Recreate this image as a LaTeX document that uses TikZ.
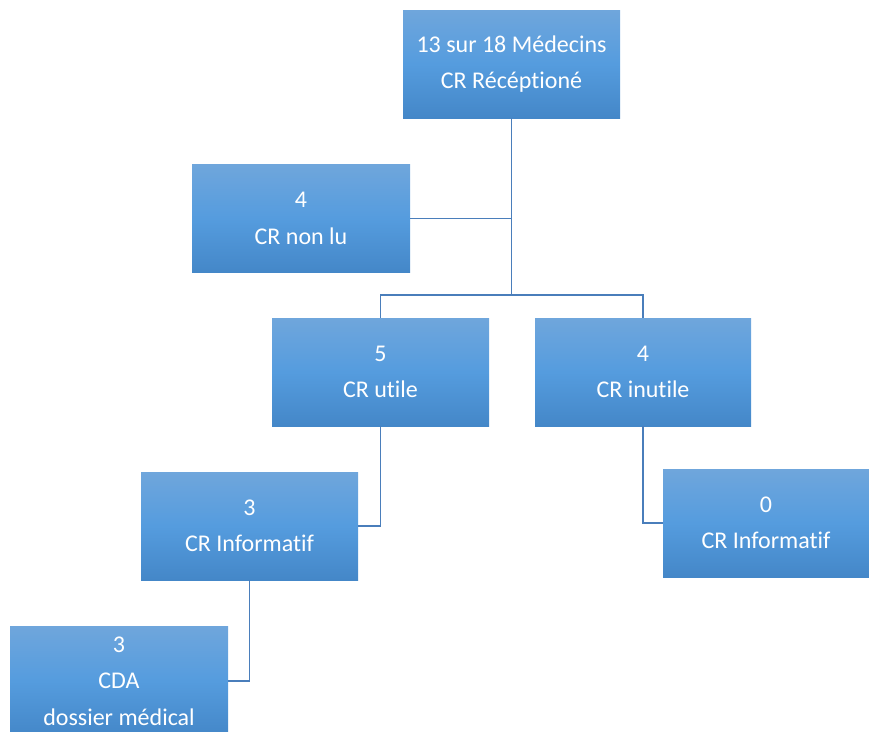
\documentclass[tikz,border=0pt]{standalone}
\usepackage{fontspec}
\setmainfont{Carlito}[Ligatures={NoCommon}]
\definecolor{boxtop}{HTML}{6FA6DC}
\definecolor{boxmid}{HTML}{559CDE}
\definecolor{boxbot}{HTML}{4487C8}
\definecolor{linec}{HTML}{4A7EBB}
\tikzset{
  orgbox/.style={rectangle, inner sep=0pt, minimum width=217pt, minimum height=108pt,
    top color=boxtop, bottom color=boxbot, middle color=boxmid,
    text=white, align=center, font=\fontsize{24}{36.5}\selectfont},
  conn/.style={draw=linec, line width=1.7pt}
}
\begin{document}
\begin{tikzpicture}[x=1pt,y=-1pt]
\useasboundingbox (0,0) rectangle (869,731);
\node[orgbox] (top) at (511.5,64) {13 sur 18 Médecins\\CR Récéptioné};
\node[orgbox, minimum width=218pt] (nonlu) at (301,218.5) {4\\CR non lu};
\node[orgbox] (utile) at (380.5,372) {5\\CR utile};
\node[orgbox, minimum width=216pt] (inutile) at (643,372) {4\\CR inutile};
\node[orgbox] (info1) at (249.5,526) {3\\CR Informatif};
\node[orgbox, minimum width=206pt] (info2) at (766,523) {0\\CR Informatif};
\node[orgbox, minimum width=218pt, minimum height=110pt] (cda) at (119,681) {3\\CDA\\dossier médical};
\coordinate (j1) at (top.south |- 0,218.5);
\coordinate (j2) at (top.south |- 0,295);
\draw[conn] (top.south) -- (j2);
\draw[conn] (j1) -- (nonlu.east);
\draw[conn] (utile.north) |- (j2) -| (inutile.north);
\draw[conn] (utile.south) |- (info1.east);
\draw[conn] (inutile.south) |- (info2.west);
\draw[conn] (info1.south) |- (cda.east);
\end{tikzpicture}
\end{document}
